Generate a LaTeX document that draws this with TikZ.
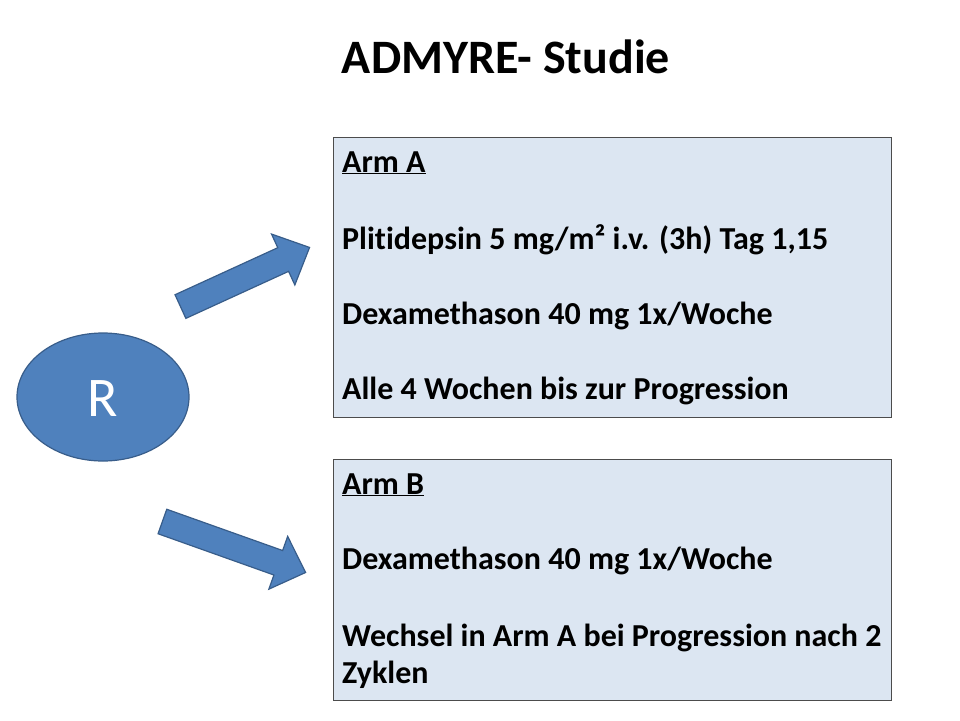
\documentclass[tikz,border=0pt]{standalone}
\usepackage{fontspec}
\setmainfont{Carlito}[Ligatures=NoCommon]
\definecolor{boxfill}{HTML}{DCE6F2}
\definecolor{blu}{HTML}{4F81BD}
\definecolor{blud}{HTML}{385D8A}
\tikzset{
  armbox/.style={draw=black!70, fill=boxfill, line width=0.8pt},
  txt/.style={anchor=base west, inner sep=0pt, font=\fontsize{32}{36}\selectfont\bfseries},
  blk/.style={draw=blud, fill=blu, line width=1.2pt}
}
\begin{document}
\begin{tikzpicture}[x=1pt,y=-1pt]
\useasboundingbox (0,0) rectangle (960,720);
\node[font=\fontsize{48}{52}\selectfont\bfseries] (title) at (506,57) {ADMYRE- Studie};
\draw[armbox] (333,137) rectangle (891,417);
\draw[armbox] (333,459) rectangle (891,700);
\node[txt] (a1) at (342,172) {\underline{Arm A}};
\node[txt] (a2) at (342,249) {Plitidepsin 5 mg/m² i.v. (3h) Tag 1,15};
\node[txt] (a3) at (342,324) {Dexamethason 40 mg 1x/Woche};
\node[txt] (a4) at (342,399) {Alle 4 Wochen bis zur Progression};
\node[txt] (b1) at (342,494) {\underline{Arm B}};
\node[txt] (b2) at (342,569) {Dexamethason 40 mg 1x/Woche};
\node[txt] (b3) at (342,646) {Wechsel in Arm A bei Progression nach 2};
\node[txt] (b4) at (342,683) {Zyklen};
\draw[blk] (103,397) ellipse [x radius=86, y radius=64];
\node[text=white, font=\fontsize{56}{60}\selectfont] (r) at (103,399) {R};
\begin{scope}[shift={(245,277)}, rotate=24.6]
\draw[blk] (-71,-13) -- (42,-13) -- (42,-28) -- (71,0) -- (42,28) -- (42,13) -- (-71,13) -- cycle;
\end{scope}
\begin{scope}[shift={(234,547)}, rotate=-19.6]
\draw[blk] (-76,-13) -- (47,-13) -- (47,-28) -- (76,0) -- (47,28) -- (47,13) -- (-76,13) -- cycle;
\end{scope}
\end{tikzpicture}
\end{document}
